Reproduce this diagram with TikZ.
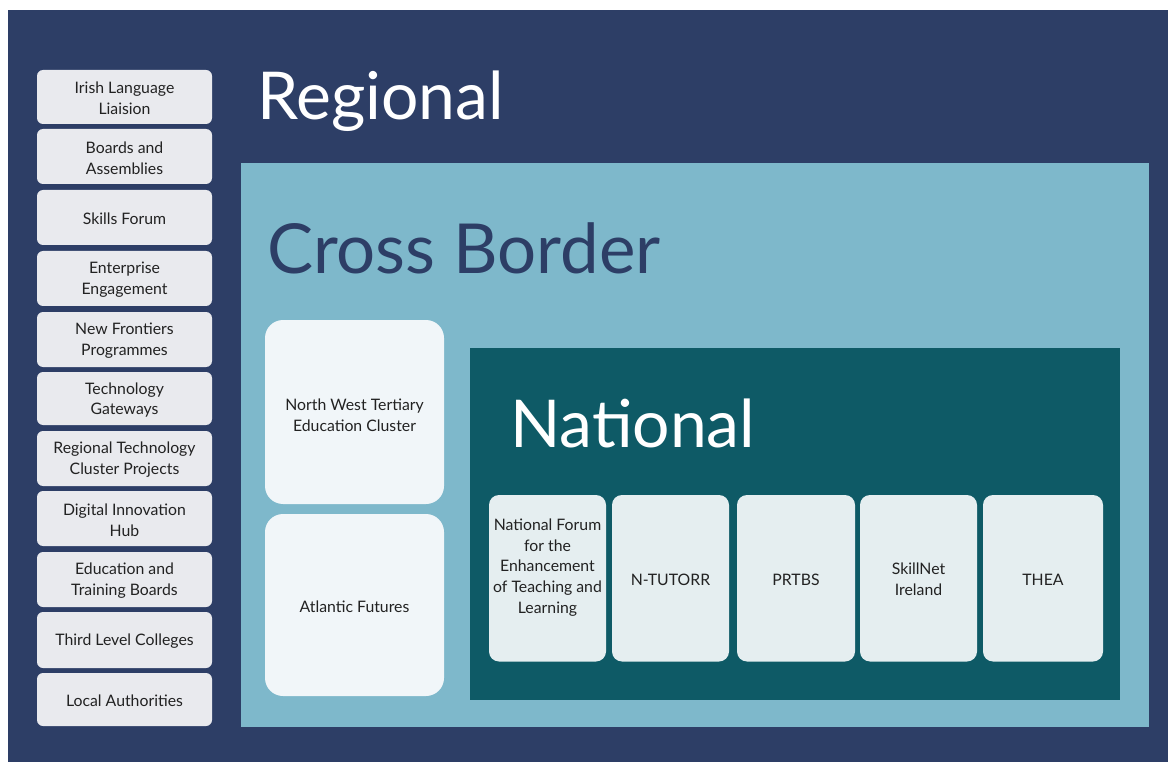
\documentclass[tikz,border=0pt]{standalone}
\usepackage{fontspec}
\setmainfont{Lato}
\definecolor{navy}{HTML}{2D3E66}
\definecolor{lblue}{HTML}{7EB8CB}
\definecolor{teal}{HTML}{0E5A66}
\definecolor{lbox}{HTML}{E9EAEE}
\definecolor{cbox}{HTML}{F1F6F9}
\definecolor{nbox}{HTML}{E5EEF0}
\definecolor{txt}{HTML}{222222}
\tikzset{
  lstyle/.style={fill=lbox, rounded corners=6pt, draw=none},
  cstyle/.style={fill=cbox, rounded corners=18pt, draw=none},
  nstyle/.style={fill=nbox, rounded corners=10pt, draw=none},
  btxt/.style={text=txt, align=center, inner sep=0pt, yshift=-1.5pt, font=\fontsize{15.8}{20.8}\selectfont},
  ttl/.style={anchor=base west, inner sep=0pt, font=\fontsize{66}{66}\selectfont},
}
\begin{document}
\begin{tikzpicture}[x=1pt,y=-1pt]
\fill[white] (0,0) rectangle (1168,762);
\useasboundingbox (0,0) rectangle (1168,762);
\fill[navy] (8,10) rectangle (1168,762);
\fill[lblue] (241,163) rectangle (1149,727);
\fill[teal] (470,348) rectangle (1120,699.5);
% titles
\node[ttl, text=white] (reg) at (257,120) {Regional};
\node[ttl, text=navy, font=\fontsize{69}{69}\selectfont] (cb) at (267,274) {Cross Border};
\node[ttl, text=white] (nat) at (510,447) {National};
% left boxes
\foreach \ya/\yb/\t [count=\i] in {
 70/124/{Irish Language\\Liaision},
 129/184/{Boards and\\Assemblies},
 190/245/{Skills Forum},
 251/306/{Enterprise\\Engagement},
 312/367/{New Frontiers\\Programmes},
 372/425/{Technology\\Gateways},
 431/486/{Regional Technology\\Cluster Projects},
 491/546/{Digital Innovation\\Hub},
 552/607/{Education and\\Training Boards},
 612/668/{Third Level Colleges},
 673/726/{Local Authorities}}{
  \fill[lstyle] (37,\ya) rectangle (212,\yb);
  \node[btxt] (l\i) at (124.5,{(\ya+\yb)/2}) {\t};
}
% cross border boxes
\fill[cstyle] (265,320) rectangle (444,504);
\node[btxt] (nw) at (354.5,414) {North West Tertiary\\Education Cluster};
\fill[cstyle] (265,514) rectangle (444,696);
\node[btxt] (af) at (354.5,605) {Atlantic Futures};
% national boxes
\foreach \xa/\xb/\yc/\t [count=\i] in {
 489/606/566/{National Forum\\for the\\Enhancement\\of Teaching and\\Learning},
 612/729/578/{N-TUTORR},
 737/855/578/{PRTBS},
 860/977/578/{SkillNet\\Ireland},
 983/1103/578/{THEA}}{
  \fill[nstyle] (\xa,495) rectangle (\xb,661.5);
  \node[btxt] (n\i) at ({(\xa+\xb)/2},\yc) {\t};
}
\end{tikzpicture}
\end{document}
